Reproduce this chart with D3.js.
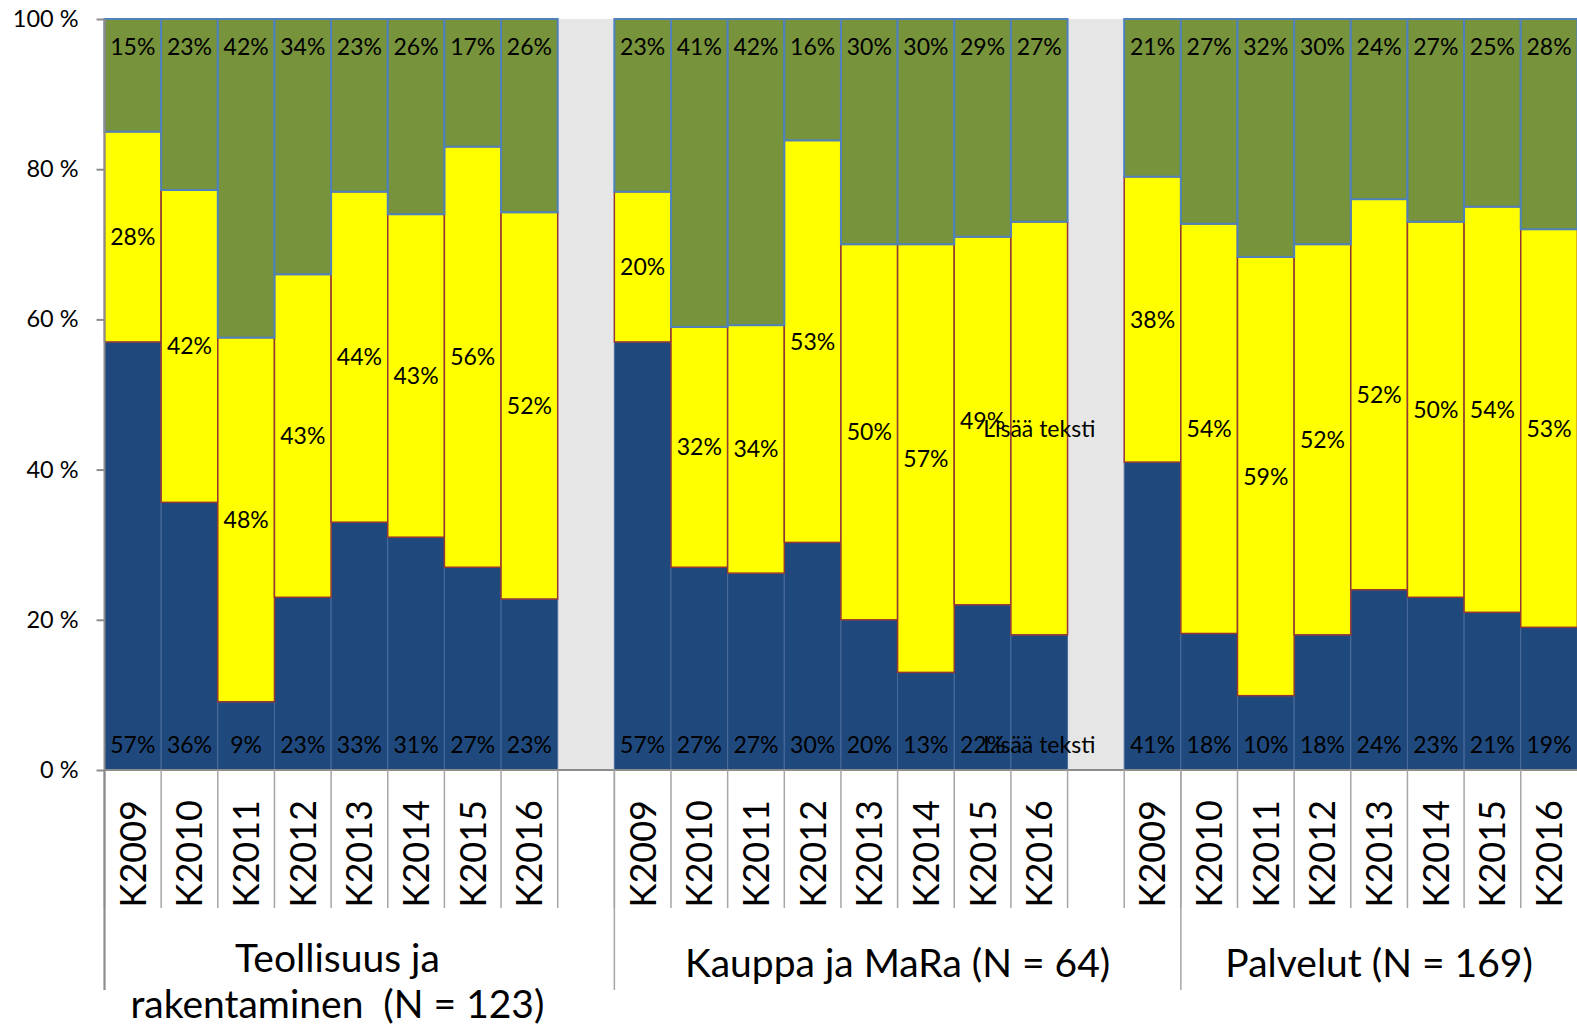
<!DOCTYPE html>
<html><head><meta charset="utf-8">
<script src="https://cdn.jsdelivr.net/npm/d3@7"></script>
<style>
body{margin:0;background:#fff}
svg{display:block}
text{font-family:Lato,"DejaVu Sans",sans-serif;fill:#000}
</style>
</head><body>
<svg id="chart" width="1577" height="1027"></svg>
<script>
// ---- data ----
const years = ["K2009","K2010","K2011","K2012","K2013","K2014","K2015","K2016"];
const groupNames = [
  ["Teollisuus ja", "rakentaminen  (N = 123)"],
  ["Kauppa ja MaRa (N = 64)"],
  ["Palvelut (N = 169)"]
];
const seriesKeys = ["bottom", "middle", "top"];
// bottom series (dark blue)
const bottomValues = [
  [57,36,9,23,33,31,27,23],
  [57,27,27,30,20,13,22,18],
  [41,18,10,18,24,23,21,19]
];
// middle series (yellow)
const middleValues = [
  [28,42,48,43,44,43,56,52],
  [20,32,34,53,50,57,49,55],
  [38,54,59,52,52,50,54,53]
];
// top series (green)
const topValues = [
  [15,23,42,34,23,26,17,26],
  [23,41,42,16,30,30,29,27],
  [21,27,32,30,24,27,25,28]
];
// placeholder labels left in the original chart
const labelOverrides = [
  {group:1, year:"K2016", series:"bottom", text:"Lisää teksti"},
  {group:1, year:"K2016", series:"middle", text:"Lisää teksti"}
];
const yTicks = [0, 0.2, 0.4, 0.6, 0.8, 1];

// ---- build categories ----
const categories = [];
const rows = [];
groupNames.forEach((g, gi) => {
  years.forEach((yr, yi) => {
    const key = `g${gi}-${yr}`;
    categories.push({key, gap:false, group:gi, year:yr});
    rows.push({key, group:gi, year:yr,
      bottom: bottomValues[gi][yi], middle: middleValues[gi][yi], top: topValues[gi][yi]});
  });
  if (gi < groupNames.length - 1) categories.push({key:`gap${gi}`, gap:true});
});
// group divider positions (Excel multi-level axis quirk)
const groupStartKeys = ["g0-K2009", "g1-K2009", "g2-K2010"];

const colors = {bottom:"#1f497d", middle:"#ffff00", top:"#77933c"};
const strokes = {bottom:"#4a6c9b", middle:"#953735", top:"#4f81bd"};
const strokeW = {bottom:1, middle:1.5, top:2};

// ---- scales ----
const svg = d3.select("#chart");
const x0 = 104.5, x1 = 1577.4, yTop = 19, yBot = 770;
const x = d3.scaleBand().domain(categories.map(c => c.key)).range([x0, x1]).padding(0);
const y = d3.scaleLinear().domain([0, 1]).range([yBot, yTop]);

// gap columns
svg.append("g").selectAll("rect").data(categories.filter(c => c.gap)).join("rect")
  .attr("x", d => x(d.key)).attr("width", x.bandwidth())
  .attr("y", y(1)).attr("height", y(0) - y(1))
  .attr("fill", "#e6e6e6");

const stack = d3.stack().keys(seriesKeys).offset(d3.stackOffsetExpand);
const stacked = stack(rows);

stacked.forEach(s => {
  svg.append("g").selectAll("rect").data(s).join("rect")
    .attr("x", d => x(d.data.key)).attr("width", x.bandwidth())
    .attr("y", d => y(d[1])).attr("height", d => y(d[0]) - y(d[1]))
    .attr("fill", colors[s.key]).attr("stroke", strokes[s.key]).attr("stroke-width", strokeW[s.key]);
});

// data labels
function labelText(d, key) {
  const o = labelOverrides.find(l => l.group === d.data.group && l.year === d.data.year && l.series === key);
  return o ? o.text : d.data[key] + "%";
}
stacked.forEach(s => {
  svg.append("g").selectAll("text").data(s).join("text")
    .attr("x", d => x(d.data.key) + x.bandwidth() / 2)
    .attr("y", d => {
      if (s.key === "top") return y(d[1]) + 28;
      if (s.key === "bottom") return y(d[0]) - 25;
      return (y(d[0]) + y(d[1])) / 2;
    })
    .attr("dy", "0.36em")
    .attr("text-anchor", "middle")
    .style("font-size", "23px")
    .text(d => labelText(d, s.key));
});

// x axis line
svg.append("line").attr("x1", x0).attr("x2", x1).attr("y1", yBot).attr("y2", yBot)
  .attr("stroke", "#8c8c8c").attr("stroke-width", 2);

// category tick lines
svg.append("g").selectAll("line").data(categories).join("line")
  .attr("x1", d => x(d.key)).attr("x2", d => x(d.key))
  .attr("y1", yBot).attr("y2", 908)
  .attr("stroke", "#a6a6a6").attr("stroke-width", 1.5);

// group divider lines
svg.append("g").selectAll("line").data(groupStartKeys).join("line")
  .attr("x1", d => x(d)).attr("x2", d => x(d))
  .attr("y1", yBot).attr("y2", 990)
  .attr("stroke", "#a6a6a6").attr("stroke-width", 1.5);

// year labels
svg.append("g").selectAll("text").data(categories.filter(c => !c.gap)).join("text")
  .attr("transform", d => `translate(${x(d.key) + x.bandwidth() / 2},800) rotate(-90)`)
  .attr("text-anchor", "end").attr("dy", "0.36em")
  .style("font-size", "36px")
  .text(d => d.year);

// group labels
const starts = groupStartKeys.map(k => x(k)).concat([x1]);
const shift = [-22, 0, 0];
groupNames.forEach((lines, gi) => {
  const cx = (starts[gi] + starts[gi + 1]) / 2 + shift[gi];
  const t = svg.append("text").attr("text-anchor", "middle")
    .style("font-size", "39px").style("white-space", "pre");
  const base = lines.length > 1 ? 972 : 977;
  lines.forEach((ln, li) => {
    t.append("tspan").attr("x", cx).attr("y", base + li * 46).text(ln);
  });
});

// y axis
const yAxis = d3.axisLeft(y).tickValues(yTicks).tickSize(8).tickPadding(18)
  .tickFormat(d => Math.round(d * 100) + " %");
const ga = svg.append("g").attr("transform", `translate(${x0},0)`).call(yAxis);
ga.select(".domain").remove();
ga.selectAll(".tick line").attr("stroke", "#8c8c8c").attr("stroke-width", 2);
ga.selectAll(".tick text").style("font-size", "23.5px").style("font-family", "Lato, 'DejaVu Sans', sans-serif").attr("fill", "#000");
svg.append("line").attr("x1", x0).attr("x2", x0).attr("y1", yTop).attr("y2", 990)
  .attr("stroke", "#8c8c8c").attr("stroke-width", 2);
</script>
</body></html>
